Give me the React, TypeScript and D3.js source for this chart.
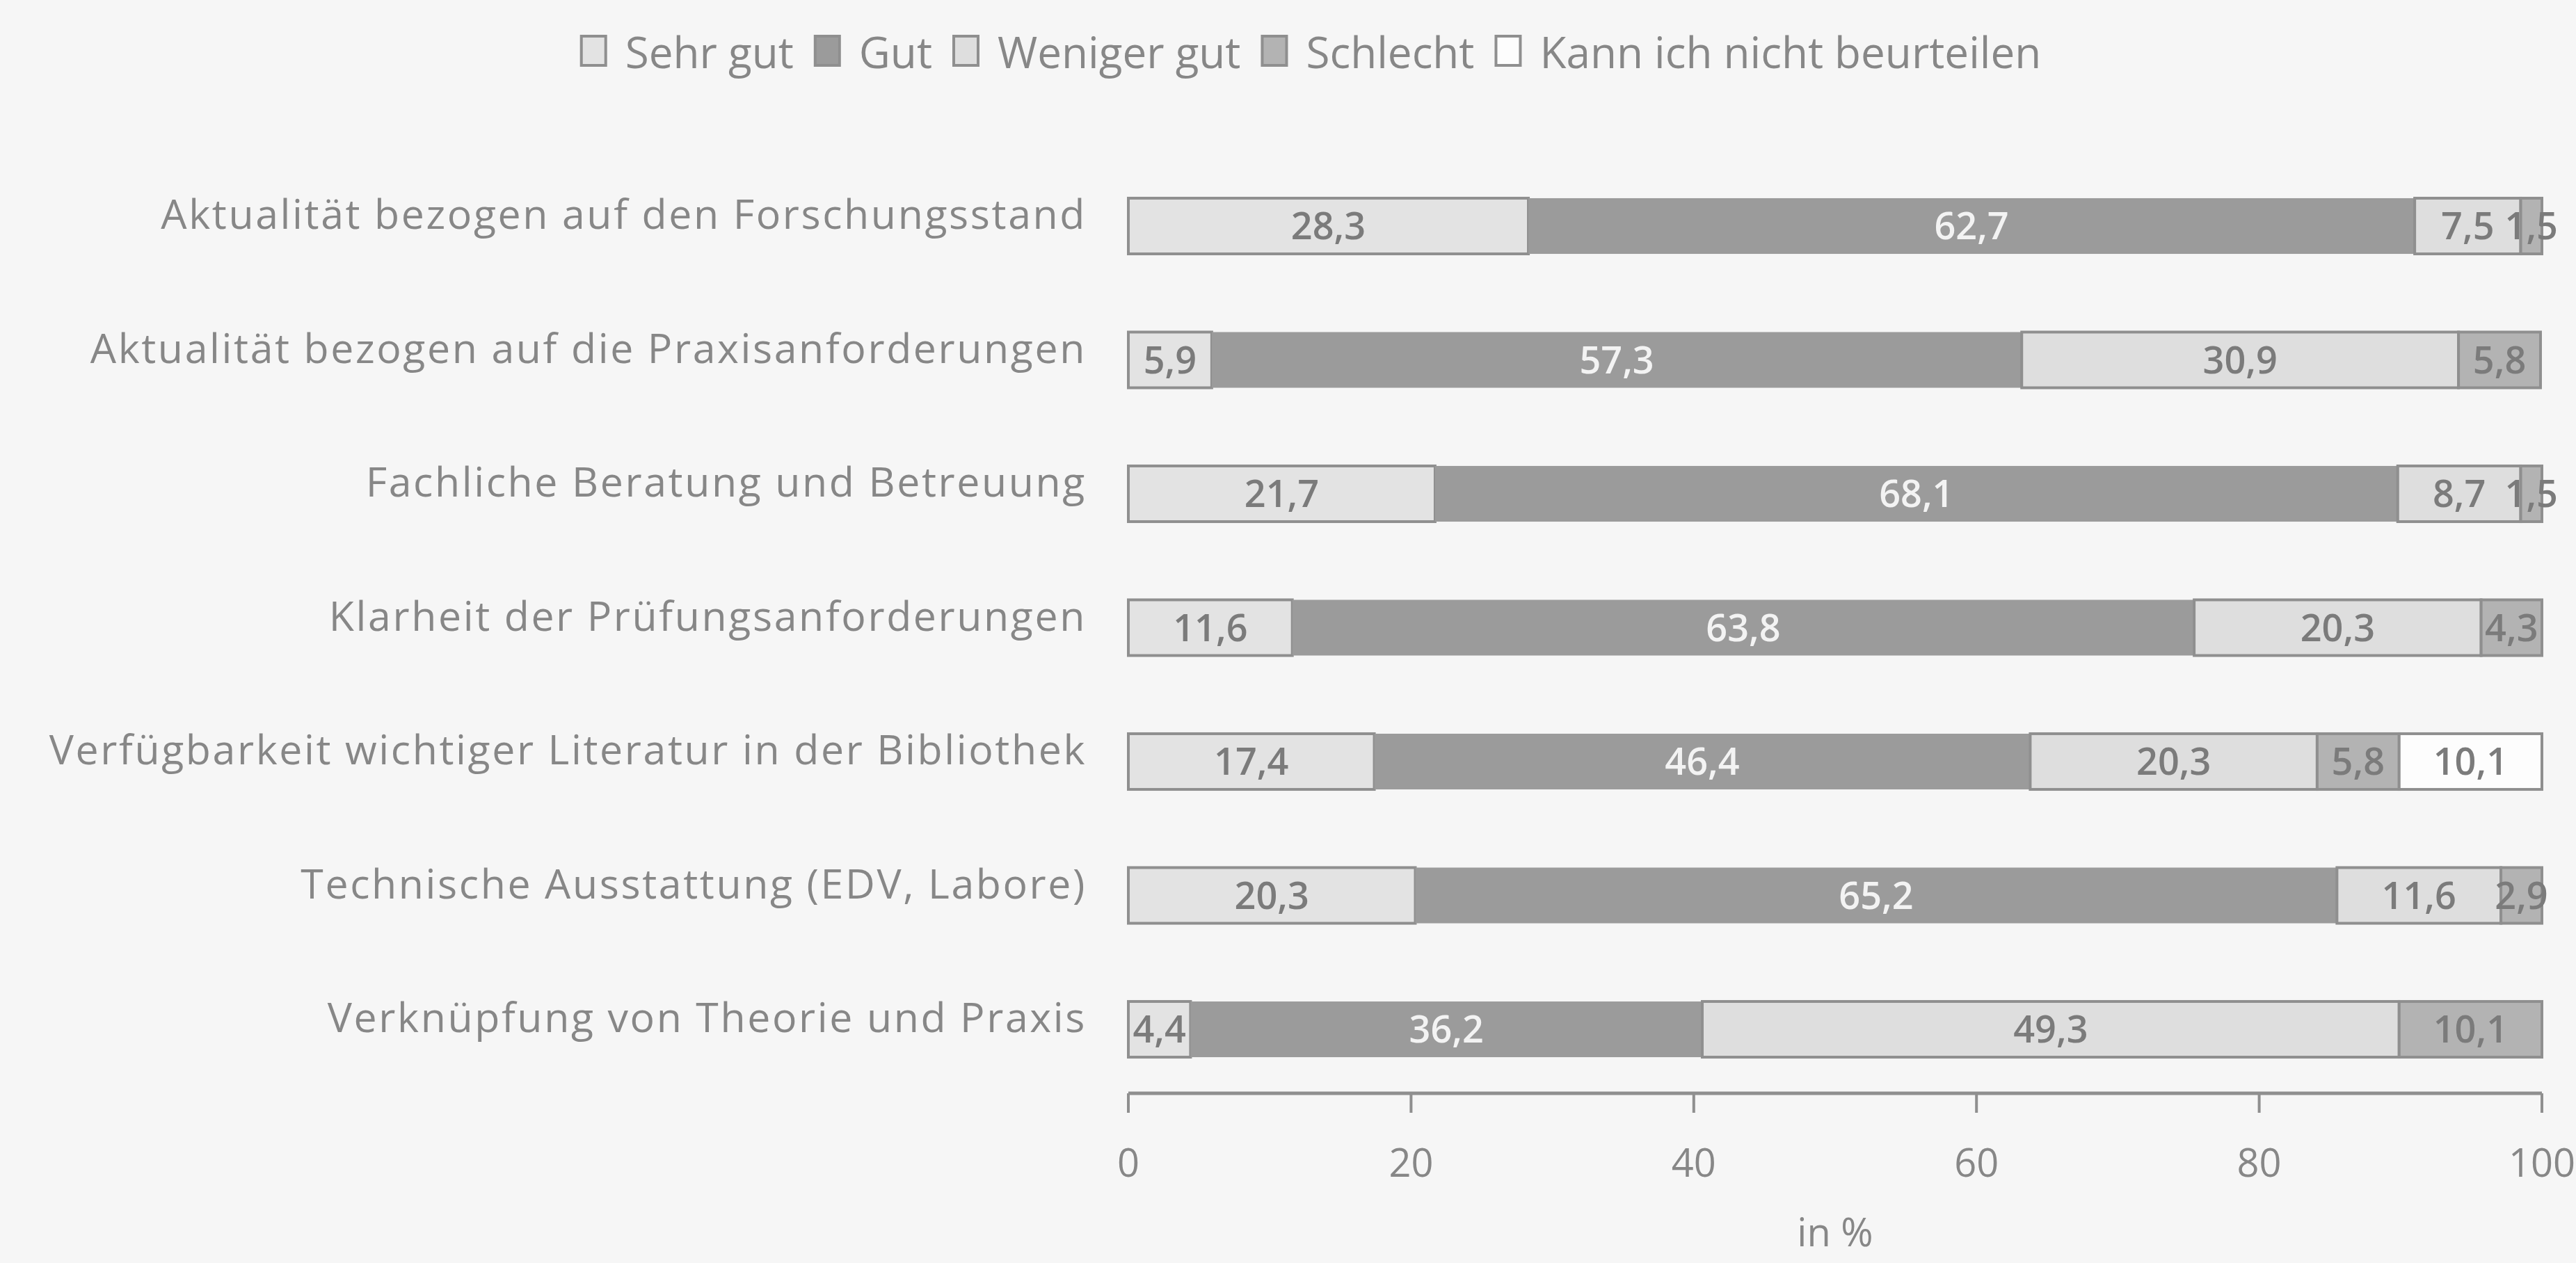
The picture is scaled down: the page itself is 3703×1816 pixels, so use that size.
import React, { useEffect, useRef } from "react";
import * as d3 from "d3";

const categories = [
  "Aktualität bezogen auf den Forschungsstand",
  "Aktualität bezogen auf die Praxisanforderungen",
  "Fachliche Beratung und Betreuung",
  "Klarheit der Prüfungsanforderungen",
  "Verfügbarkeit wichtiger  Literatur in der Bibliothek",
  "Technische Ausstattung (EDV, Labore)",
  "Verknüpfung von Theorie und Praxis",
];

const seriesNames = ["Sehr gut", "Gut", "Weniger gut", "Schlecht", "Kann ich nicht beurteilen"];

const sehrGut = [28.3, 5.9, 21.7, 11.6, 17.4, 20.3, 4.4];
const gut = [62.7, 57.3, 68.1, 63.8, 46.4, 65.2, 36.2];
const wenigerGut = [7.5, 30.9, 8.7, 20.3, 20.3, 11.6, 49.3];
const schlecht = [1.5, 5.8, 1.5, 4.3, 5.8, 2.9, 10.1];
const kannNicht = [0, 0, 0, 0, 10.1, 0, 0];

const xTicks = [0, 20, 40, 60, 80, 100];
const axisTitle = "in %";

const fills = ["#e3e3e3", "#9b9b9b", "#dedede", "#b3b3b3", "#fdfdfd"];
const labelColors = ["#7b7b7b", "#f3f3f3", "#7b7b7b", "#7b7b7b", "#7b7b7b"];

export default function App() {
  const ref = useRef<SVGSVGElement | null>(null);

  useEffect(() => {
    document.body.style.margin = "0";
    const W = 3703, H = 1816;
    const svg = d3.select(ref.current);
    svg.selectAll("*").remove();
    const font = "'Open Sans', 'Noto Sans', sans-serif";
    const textCol = "#878787";

    svg.append("rect").attr("width", W).attr("height", H).attr("fill", "#f6f6f6");

    const x = d3.scaleLinear().domain([0, 100]).range([1622, 3654]);
    const y = d3
      .scaleBand<string>()
      .domain(categories)
      .range([228.75, 1576.25])
      .paddingInner(0.584)
      .paddingOuter(0.292);

    const series = [sehrGut, gut, wenigerGut, schlecht, kannNicht];
    const rows = categories.map((c, i) => {
      const vals = series.map((s) => s[i]);
      let acc = 0;
      return vals.map((v, k) => {
        const seg = { cat: c, k, v, x0: acc, x1: acc + v };
        acc += v;
        return seg;
      });
    });

    const g = svg.append("g");
    rows.forEach((segs) => {
      segs.forEach((s) => {
        if (s.v <= 0) return;
        g.append("rect")
          .attr("x", x(s.x0))
          .attr("y", y(s.cat)!)
          .attr("width", x(s.x1) - x(s.x0))
          .attr("height", y.bandwidth())
          .attr("fill", fills[s.k])
          .attr("stroke", s.k === 1 ? "none" : "#8f8f8f")
          .attr("stroke-width", 4);
      });
      segs.forEach((s) => {
        if (s.v <= 0) return;
        g.append("text")
          .attr("x", (x(s.x0) + x(s.x1)) / 2)
          .attr("y", y(s.cat)! + y.bandwidth() / 2)
          .attr("dy", "0.36em")
          .attr("text-anchor", "middle")
          .attr("font-family", font)
          .attr("font-weight", 600)
          .attr("font-size", 54)
          .attr("fill", labelColors[s.k])
          .text(d3.format(".1f")(s.v).replace(".", ","));
      });
    });

    // category labels
    categories.forEach((c) => {
      svg.append("text")
        .attr("x", 1562)
        .attr("y", y(c)! + y.bandwidth() / 2 + 4)
        .attr("text-anchor", "end")
        .attr("font-family", font)
        .attr("font-size", 59)
        .attr("letter-spacing", 2.6)
        .attr("fill", textCol)
        .text(c);
    });

    // axis
    const axisY = 1572;
    const ax = svg.append("g").attr("transform", `translate(0,${axisY})`);
    ax.append("line")
      .attr("x1", x(0)).attr("x2", x(100))
      .attr("stroke", "#8f8f8f").attr("stroke-width", 5);
    xTicks.forEach((t) => {
      ax.append("line")
        .attr("x1", x(t)).attr("x2", x(t))
        .attr("y1", 0).attr("y2", 28)
        .attr("stroke", "#8f8f8f").attr("stroke-width", 4);
      ax.append("text")
        .attr("x", x(t)).attr("y", 120)
        .attr("text-anchor", "middle")
        .attr("font-family", font).attr("font-size", 56)
        .attr("fill", textCol)
        .text(String(t));
    });
    svg.append("text")
      .attr("x", (x(0) + x(100)) / 2).attr("y", 1792)
      .attr("text-anchor", "middle")
      .attr("font-family", font).attr("font-size", 56)
      .attr("fill", textCol)
      .text(axisTitle);

    // legend
    const lg = svg.append("g");
    const items: { box: any; txt: any }[] = [];
    seriesNames.forEach((n, k) => {
      const box = lg.append("rect")
        .attr("y", 52).attr("width", 35).attr("height", 42)
        .attr("fill", fills[k]).attr("stroke", "#8f8f8f").attr("stroke-width", 4);
      const txt = lg.append("text")
        .attr("y", 98)
        .attr("font-family", font).attr("font-size", 62)
        .attr("fill", textCol)
        .text(n);
      items.push({ box, txt });
    });
    const widths = items.map((it) => (it.txt.node() as SVGTextElement).getComputedTextLength());
    const boxW = 35, gapBT = 28, gapTB = 31;
    const total = widths.reduce((a, w) => a + boxW + gapBT + w, 0) + gapTB * (items.length - 1);
    let cx = 1885 - total / 2;
    items.forEach((it, k) => {
      it.box.attr("x", cx);
      cx += boxW + gapBT;
      it.txt.attr("x", cx);
      cx += widths[k] + gapTB;
    });
  }, []);

  return <svg ref={ref} width={3703} height={1816} style={{ display: "block" }} />;
}
